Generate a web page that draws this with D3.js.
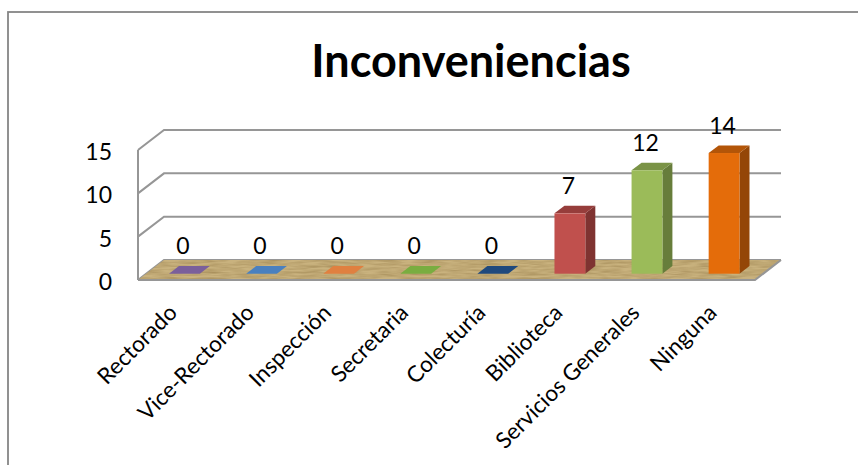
<!DOCTYPE html>
<html><head><meta charset="utf-8">
<script src="https://cdnjs.cloudflare.com/ajax/libs/d3/7.8.5/d3.min.js"></script>
<style>html,body{margin:0;padding:0;background:#fff}svg{display:block}
text{font-family:Lato,"Noto Sans",sans-serif;fill:#000}</style></head>
<body><svg id="c" width="858" height="465"></svg>
<script>
const title = "Inconveniencias";
const categories = ["Rectorado","Vice-Rectorado","Inspección","Secretaria","Colecturía","Biblioteca","Servicios Generales","Ninguna"];
const values = [0,0,0,0,0,7,12,14];
const frontColors = ["#8064a2","#4f81bd","#e0803a","#7cae3f","#1f497d","#c0504d","#9bbb59","#e46c0a"];
const topColors = ["#7a5f9b","#4a80bf","#e08040","#79ad40","#1f497d","#963d3b","#7a9346","#b35508"];
const sideColors = ["#574370","#355a84","#a05c28","#557a2c","#142f52","#7f3331","#677d3b","#944607"];
const yTicks = [0,5,10,15];

const svg = d3.select("#c");
// depth offset of the oblique projection
const dx = 26, dy = -20;
const barDx = 10, barDy = -7.6;
const y = d3.scaleLinear().domain([0,15]).range([280,150]);
const x = d3.scaleBand().domain(categories).range([169,739.5]).paddingInner(0.6).paddingOuter(0);
const barBase = 273.7;
const h = d3.scaleLinear().domain([0,1]).range([0,8.62]);

const defs = svg.append("defs");
const f = defs.append("filter").attr("id","wood").attr("x",0).attr("y",0).attr("width",1).attr("height",1)
  .attr("color-interpolation-filters","sRGB");
f.append("feTurbulence").attr("type","fractalNoise").attr("baseFrequency","0.05 0.5").attr("numOctaves",2).attr("seed",4).attr("result","n");
f.append("feColorMatrix").attr("in","n").attr("type","matrix")
 .attr("values","0 0 0 0 0.6  0 0 0 0 0.5  0 0 0 0 0.3  1.1 0 0 0 -0.35").attr("result","t");
f.append("feComposite").attr("in","t").attr("in2","SourceGraphic").attr("operator","in").attr("result","c");
f.append("feMerge").selectAll("feMergeNode").data(["SourceGraphic","c"]).join("feMergeNode").attr("in",d=>d);

// chart frame
svg.append("rect").attr("x",8).attr("y",12).attr("width",870).attr("height",470)
  .attr("fill","#fff").attr("stroke","#868686").attr("stroke-width",1.8);

// gridlines with wall fold
const line = d3.line();
const gridColor = "#969696";
svg.append("g").selectAll("path").data(yTicks).join("path")
  .attr("d",d=>line([[138,y(d)],[138+dx,y(d)+dy],[755+dx,y(d)+dy]]))
  .attr("fill","none").attr("stroke",gridColor).attr("stroke-width",2);
svg.append("path").attr("d",line([[138,y(0)],[138,y(15)]])).attr("stroke",gridColor).attr("stroke-width",2).attr("fill","none");

// floor
svg.append("path").attr("d",line([[138,y(0)],[138+dx,y(0)+dy],[755+dx,y(0)+dy],[755,y(0)]])+"Z")
  .attr("fill","#c9b27e").attr("filter","url(#wood)");
svg.append("path").attr("d",line([[138,y(0)],[755,y(0)],[755+dx,y(0)+dy]])).attr("fill","none").attr("stroke",gridColor).attr("stroke-width",2);

// bars
const g = svg.append("g").selectAll("g").data(categories).join("g");
g.append("path").attr("fill",(d,i)=>sideColors[i]).attr("d",(d,i)=>{
  const r=x(d)+x.bandwidth(), t=barBase-h(values[i]);
  return line([[r,barBase],[r+barDx,barBase+barDy],[r+barDx,t+barDy],[r,t]])+"Z";});
g.append("path").attr("fill",(d,i)=>topColors[i]).attr("d",(d,i)=>{
  const l=x(d), r=l+x.bandwidth(), t=barBase-h(values[i]);
  return line([[l,t],[l+barDx,t+barDy],[r+barDx,t+barDy],[r,t]])+"Z";});
g.append("rect").attr("fill",(d,i)=>frontColors[i]).attr("x",d=>x(d)).attr("width",x.bandwidth())
  .attr("y",(d,i)=>barBase-h(values[i])).attr("height",(d,i)=>h(values[i]));

// data labels
g.append("text").attr("x",d=>x(d)+x.bandwidth()/2-1.5).attr("y",(d,i)=>barBase-h(values[i])-19.5)
  .attr("text-anchor","middle").attr("font-size",23).text((d,i)=>values[i]);

// y tick labels
svg.append("g").selectAll("text").data(yTicks).join("text")
  .attr("x",112).attr("y",d=>y(d)+10).attr("text-anchor","end").attr("font-size",23).text(d=>d);

// x labels
svg.append("g").selectAll("text").data(categories).join("text")
  .attr("text-anchor","end").attr("font-size",22.5)
  .attr("transform",d=>`translate(${x(d)+x.bandwidth()/2-6},${314}) rotate(-45)`).text(d=>d);

svg.append("text").attr("x",471).attr("y",77).attr("text-anchor","middle")
  .attr("font-size",45).attr("font-weight",700).text(title);
</script></body></html>
